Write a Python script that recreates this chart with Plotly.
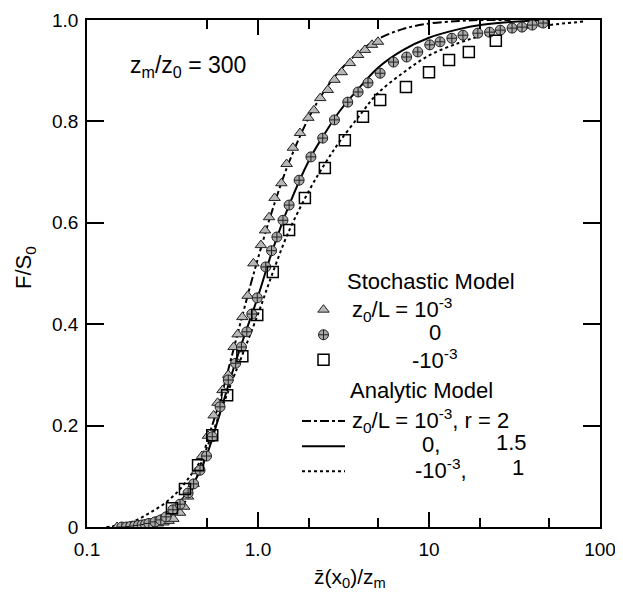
import plotly.graph_objects as go

# ---- Stochastic model (markers) ----
tri_x = [0.15,0.16,0.17,0.18,0.19,0.20,0.21,0.22,0.24,0.26,0.28,0.30,0.32,0.35,0.37,0.39,0.42,0.44,0.47,0.51,0.55,0.58,0.62,0.67,0.72,0.76,0.81,0.87,0.94,1.04,1.10,1.16,1.25,1.37,1.47,1.60,1.76,1.97,2.12,2.31,2.56,2.80,3.09,3.45,3.85,4.22,4.64,5.03]
tri_y = [0,0,0,0,0.001,0.002,0.002,0.003,0.005,0.007,0.009,0.012,0.016,0.028,0.04,0.06,0.085,0.11,0.14,0.18,0.22,0.245,0.27,0.30,0.355,0.38,0.414,0.456,0.52,0.556,0.585,0.611,0.649,0.678,0.716,0.748,0.777,0.807,0.822,0.846,0.862,0.882,0.897,0.915,0.931,0.941,0.951,0.957]

circ_x = [0.16,0.17,0.18,0.19,0.20,0.21,0.22,0.23,0.25,0.27,0.29,0.318,0.35,0.39,0.42,0.458,0.50,0.54,0.60,0.67,0.74,0.80,0.86,0.92,0.99,1.11,1.20,1.29,1.40,1.52,1.74,2.04,2.39,2.80,3.35,3.85,4.4,5.18,6.2,7.4,8.6,10.1,11.6,13.6,15.8,19.3,22.6,26.1,30.6,35.0,40.2,46.5]
circ_y = [0,0,0.001,0.002,0.003,0.004,0.005,0.007,0.01,0.014,0.02,0.034,0.045,0.067,0.085,0.112,0.14,0.178,0.237,0.29,0.323,0.355,0.385,0.42,0.452,0.513,0.545,0.572,0.605,0.635,0.684,0.73,0.767,0.803,0.838,0.858,0.876,0.895,0.917,0.927,0.937,0.951,0.957,0.964,0.970,0.974,0.976,0.980,0.984,0.986,0.990,0.994]

sq_x = [0.314,0.374,0.446,0.54,0.66,0.81,0.99,1.22,1.52,1.88,2.46,3.22,4.11,5.18,7.33,10.0,13.1,17.1,24.6]
sq_y = [0.037,0.075,0.122,0.181,0.26,0.337,0.418,0.503,0.586,0.649,0.708,0.763,0.809,0.842,0.868,0.897,0.921,0.937,0.959]

# ---- Analytic model (curves) ----
dd_x = [0.14,0.17,0.2,0.25,0.3,0.35,0.4,0.45,0.5,0.6,0.7,0.8,0.9,1.0,1.2,1.5,2,2.5,3,4,5,7,10,15,20,30]
dd_y = [0,0.002,0.006,0.012,0.022,0.038,0.065,0.11,0.165,0.25,0.335,0.41,0.475,0.53,0.62,0.715,0.81,0.865,0.9,0.94,0.962,0.982,0.993,0.998,1.0,1.0]

solid_x = [0.14,0.17,0.2,0.25,0.3,0.35,0.4,0.45,0.5,0.6,0.7,0.8,1.0,1.2,1.5,2,2.5,3,4,5,7,10,15,20,30,50]
solid_y = [0,0.003,0.008,0.018,0.03,0.05,0.075,0.105,0.14,0.225,0.30,0.36,0.455,0.54,0.63,0.725,0.78,0.82,0.87,0.905,0.94,0.965,0.982,0.99,0.996,1.0]

dot_x = [0.13,0.15,0.19,0.23,0.28,0.34,0.4,0.46,0.5,0.6,0.7,0.8,1.0,1.2,1.5,2,2.5,3,4,5,7,10,15,20,30,50,80]
dot_y = [0,0.003,0.012,0.027,0.045,0.07,0.10,0.13,0.155,0.225,0.285,0.335,0.42,0.495,0.58,0.665,0.72,0.76,0.815,0.855,0.895,0.93,0.955,0.968,0.98,0.99,0.997]

x_tickvals = [0.1, 1, 10, 100]
x_ticktext = ["0.1", "1.0", "10", "100"]
x_minor = [0.5, 2, 5, 20, 50]
y_tickvals = [0, 0.2, 0.4, 0.6, 0.8, 1.0]
y_ticktext = ["0", "0.2", "0.4", "0.6", "0.8", "1.0"]

FONT = "Liberation Sans, Arial, Helvetica, sans-serif"
NB = "\u00a0"

# page body has an 8px margin; plot area spans screen x 87..600, y 20..527
W, H = 607, 583
L, T = 79, 12
PW, PH = 513, 507


def px(X):
    return (X - 87) / PW


def py(Y):
    return (527 - Y) / PH


fig = go.Figure()

# curves (under markers)
fig.add_trace(go.Scatter(x=dd_x, y=dd_y, mode="lines", line=dict(color="black", width=2, dash="dashdot", shape="spline"),
                         name="", legendgroup="an", legendgrouptitle_text=NB, legendrank=4))
fig.add_trace(go.Scatter(x=solid_x, y=solid_y, mode="lines", line=dict(color="black", width=2, shape="spline"),
                         name="", legendgroup="an", legendrank=5))
fig.add_trace(go.Scatter(x=dot_x, y=dot_y, mode="lines", line=dict(color="black", width=2, dash="dot", shape="spline"),
                         name="", legendgroup="an", legendrank=6))

fig.add_trace(go.Scatter(x=tri_x, y=tri_y, mode="markers",
                         marker=dict(symbol="triangle-up", size=10, color="#b8b8b8", line=dict(color="#222", width=1)),
                         name="", legendgroup="st", legendgrouptitle_text=NB, legendrank=1))
fig.add_trace(go.Scatter(x=circ_x, y=circ_y, mode="markers",
                         marker=dict(symbol="circle-cross", size=10, color="#a8a8a8", line=dict(color="#222", width=1)),
                         name="", legendgroup="st", legendrank=2))
fig.add_trace(go.Scatter(x=sq_x, y=sq_y, mode="markers",
                         marker=dict(symbol="square-open", size=11, color="black", line=dict(width=1.5)),
                         name="", legendgroup="st", legendrank=3))

axis_common = dict(showline=True, linecolor="black", linewidth=1.5, mirror="ticks", ticks="inside",
                   tickcolor="black", tickwidth=1.5, showgrid=False, zeroline=False, automargin=False,
                   ticklabeloverflow="allow",
                   tickfont=dict(family=FONT, size=19, color="black"))

fig.update_xaxes(type="log", range=[-1, 2], tickvals=x_tickvals, ticktext=x_ticktext, ticklen=15,
                 ticklabelstandoff=4,
                 minor=dict(tickvals=x_minor, ticklen=9, ticks="inside", tickcolor="black", tickwidth=1.5, showgrid=False),
                 **axis_common)
fig.update_yaxes(range=[0, 1], tickvals=y_tickvals, ticktext=y_ticktext, ticklen=17,
                 ticklabelstandoff=3, **axis_common)

LF = dict(family=FONT, size=22, color="black")


def txt(text, X, Y, anchor="left", size=22):
    return dict(text=text, x=px(X), y=py(Y), xref="paper", yref="paper", xanchor=anchor, yanchor="middle",
                showarrow=False, font=dict(family=FONT, size=size, color="black"))


annotations = [
    txt("z<sub>m</sub>/z<sub>0</sub> = 300", 188, 66, "center", 23),
    # legend texts
    txt("Stochastic Model", 345, 281),
    txt("z<sub>0</sub>/L = 10<sup>-3</sup>", 350, 309),
    txt("0", 435, 332, "center"),
    txt("-10<sup>-3</sup>", 410, 359),
    txt("Analytic Model", 348, 390),
    txt("z<sub>0</sub>/L = 10<sup>-3</sup>, r = 2", 350, 420),
    txt("0,", 420, 444),
    txt("1.5", 494, 442),
    txt("-10<sup>-3</sup>,", 413, 469),
    txt("1", 510, 467),
    # axis titles
    dict(text="F/S<sub>0</sub>", x=px(25), y=py(268), xref="paper", yref="paper", textangle=-90,
         xanchor="center", yanchor="middle", showarrow=False, font=LF),
    txt("z\u0304(x<sub>0</sub>)/z<sub>m</sub>", 350, 578, "center", 21),
]

fig.update_layout(
    width=W, height=H,
    margin=dict(l=L, r=W - L - PW, t=T, b=H - T - PH, pad=0, autoexpand=False),
    plot_bgcolor="white", paper_bgcolor="white",
    font=dict(family=FONT, size=17, color="black"),
    showlegend=True,
    legend=dict(x=px(297), y=py(267), xanchor="left", yanchor="top", bgcolor="rgba(0,0,0,0)",
                font=dict(family=FONT, size=17, color="black"), tracegroupgap=11, itemwidth=43,
                traceorder="grouped", grouptitlefont=dict(family=FONT, size=17, color="black")),
    annotations=annotations,
)

fig.write_html("out.html")
